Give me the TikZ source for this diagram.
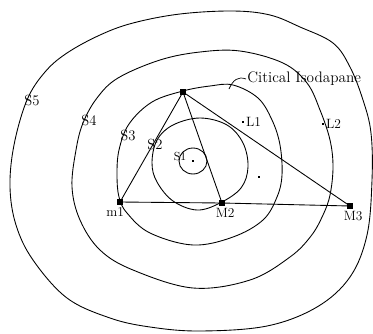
\documentclass[tikz,border=0pt]{standalone}
\usepackage{fontspec}
\usetikzlibrary{positioning}

\begin{document}
\begin{tikzpicture}[x=0.03cm,y=-0.03cm,
 mk/.style={rectangle,fill=black,inner sep=0pt,minimum size=4.6pt},
 dt/.style={rectangle,fill=black,inner sep=0pt,minimum size=2.4pt},
 lab/.style={font=\fontsize{11.5}{12}\selectfont,inner sep=1pt},
 iso/.style={line width=0.75pt},
 ln/.style={line width=0.75pt}]
\useasboundingbox (0,0) rectangle (373,333);

% isodapanes
\draw[iso] plot[smooth cycle,tension=0.6] coordinates {(10,187) (14,145) (27,100) (45,72) (67,53) (100,35) (133,23) (180,14) (233,11) (270,15) (300,27) (333,43) (350,67) (363,100) (371,133) (372,180) (367,235) (350,277) (317,307) (267,326) (200,331) (150,327) (110,318) (67,298) (33,260) (16,225)};
\draw[iso] plot[smooth cycle,tension=0.6] coordinates {(72,187) (76,150) (83,123) (97,98) (118,78) (160,60) (200,52) (240,51) (283,63) (307,83) (320,110) (330,140) (333,167) (330,195) (323,215) (311,236) (290,257) (250,280) (193,288) (133,270) (100,250) (80,220)};
\draw[iso] plot[smooth cycle,tension=0.6] coordinates {(183,91) (210,86) (233,85) (258,98) (272,120) (280,145) (282,175) (277,197) (263,220) (233,237) (193,245) (150,233) (127,213) (119,197) (117,175) (119,150) (129,124) (152,102)};
\draw[iso] plot[smooth cycle,tension=0.6] coordinates {(152,163) (157,140) (173,125) (200,118) (227,125) (243,143) (248,167) (241,188) (220,203) (197,210) (173,201) (157,182)};
\draw[iso] (193,161) ellipse (14 and 13);

% locations
\node[mk] (T) at (183,92) {};
\node[mk] (m1) at (120,202) {};
\node[mk] (m2) at (222,203) {};
\node[mk] (m3) at (350,206) {};
\node[dt] (c) at (193,161) {};
\node[dt] (p) at (259,177) {};
\node[dt] (l1) at (243,122) {};
\node[dt] (l2) at (323,124) {};

\draw[ln] (T) -- (m1);
\draw[ln] (T) -- (m2);
\draw[ln] (T) -- (m3);
\draw[ln] (m1) -- (m2) -- (m3);

\node[lab,below left=1pt and -7pt of m1] {m1};
\node[lab,below right=1pt and -9pt of m2] {M2};
\node[lab,below right=1pt and -9pt of m3] {M3};
\node[lab,right=0pt of l1] {L1};
\node[lab,right=0pt of l2] {L2};

\node[lab,font=\fontsize{12.5}{13}\selectfont] (s5) at (32,100) {S5};
\node[lab,font=\fontsize{12.5}{13}\selectfont] (s4) at (89,120) {S4};
\node[lab,font=\fontsize{12.5}{13}\selectfont] (s3) at (128,135) {S3};
\node[lab,font=\fontsize{12.5}{13}\selectfont] (s2) at (155,144) {S2};
\node[lab,font=\fontsize{10}{11}\selectfont] (s1) at (180,156) {S1};

\node[lab,font=\fontsize{13}{14}\selectfont,anchor=west] (crit) at (246,79) {Citical Isodapane};
\coordinate (ci) at (229,89);
\draw[line width=0.6pt] (crit.west) .. controls (238,76) and (233,80) .. (ci);
\end{tikzpicture}
\end{document}
